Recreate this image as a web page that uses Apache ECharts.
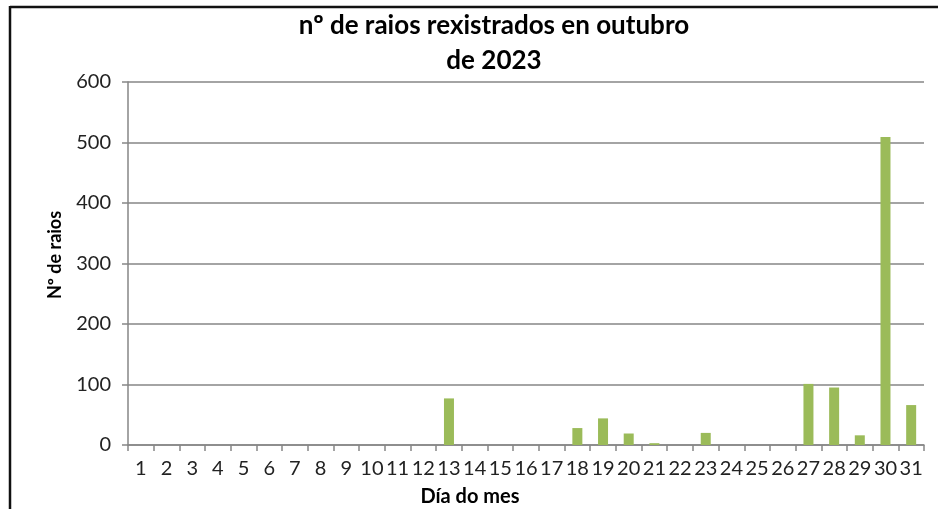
<!DOCTYPE html>
<html>
<head>
<meta charset="utf-8">
<script src="https://cdn.jsdelivr.net/npm/echarts@6/dist/echarts.min.js"></script>
<style>
html,body{margin:0;padding:0;background:#fff;}
#c{width:938px;height:509px;}
</style>
</head>
<body>
<div id="c"></div>
<script>
var days = ['1','2','3','4','5','6','7','8','9','10','11','12','13','14','15','16','17','18','19','20','21','22','23','24','25','26','27','28','29','30','31'];
var raios = [0,0,0,0,0,0,0,0,0,0,0,0,77,0,0,0,0,28,44,19,3,0,20,0,0,0,101,95,16,509,66];
var yTicks = {min:0, max:600, interval:100};
var titleLines = ['nº de raios rexistrados en outubro', 'de 2023'];
var yName = 'Nº de raios';
var xName = 'Día do mes';

var FONT = 'Lato, "Open Sans", sans-serif';
var chart = echarts.init(document.getElementById('c'), null, {renderer:'canvas'});
chart.setOption({
  animation:false,
  backgroundColor:'#fff',
  title:{
    text: titleLines.join('\n'),
    left: 489, top: 3, textAlign:'center',
    textStyle:{fontFamily:FONT, fontSize:26, fontWeight:'bold', color:'#000', lineHeight:35}
  },
  grid:{left:128, right:14, top:82, bottom:64},
  xAxis:{
    type:'category', data:days,
    axisLine:{lineStyle:{color:'#868686', width:1.5}},
    axisTick:{show:true, alignWithLabel:false, length:6, lineStyle:{color:'#868686', width:1.5}},
    axisLabel:{interval:0, margin:14, fontFamily:FONT, fontSize:20, color:'#222'}
  },
  yAxis:{
    type:'value', min:yTicks.min, max:yTicks.max, interval:yTicks.interval,
    axisLine:{show:true, lineStyle:{color:'#868686', width:1.5}},
    axisTick:{show:true, length:6, inside:false, lineStyle:{color:'#868686', width:1.5}},
    splitLine:{lineStyle:{color:'#868686', width:1.5}},
    axisLabel:{margin:17, fontFamily:FONT, fontSize:20, color:'#222'}
  },
  series:[{
    type:'bar', data:raios, barWidth:10,
    itemStyle:{color:'#9BBB59'}
  }],
  graphic:[
    {type:'text', x:470, y:497, style:{text:xName, fontFamily:FONT, fontSize:20, fontWeight:'bold', fill:'#000', align:'center', verticalAlign:'middle'}},
    {type:'text', x:55, y:255, rotation:Math.PI/2, style:{text:yName, fontFamily:FONT, fontSize:18, fontWeight:'bold', fill:'#000', align:'center', verticalAlign:'middle'}},
    {type:'line', shape:{x1:10, y1:7, x2:938, y2:7}, style:{stroke:'#111', lineWidth:2.5}},
    {type:'line', shape:{x1:10, y1:6, x2:10, y2:509}, style:{stroke:'#111', lineWidth:2.5}}
  ]
});
</script>
</body>
</html>
